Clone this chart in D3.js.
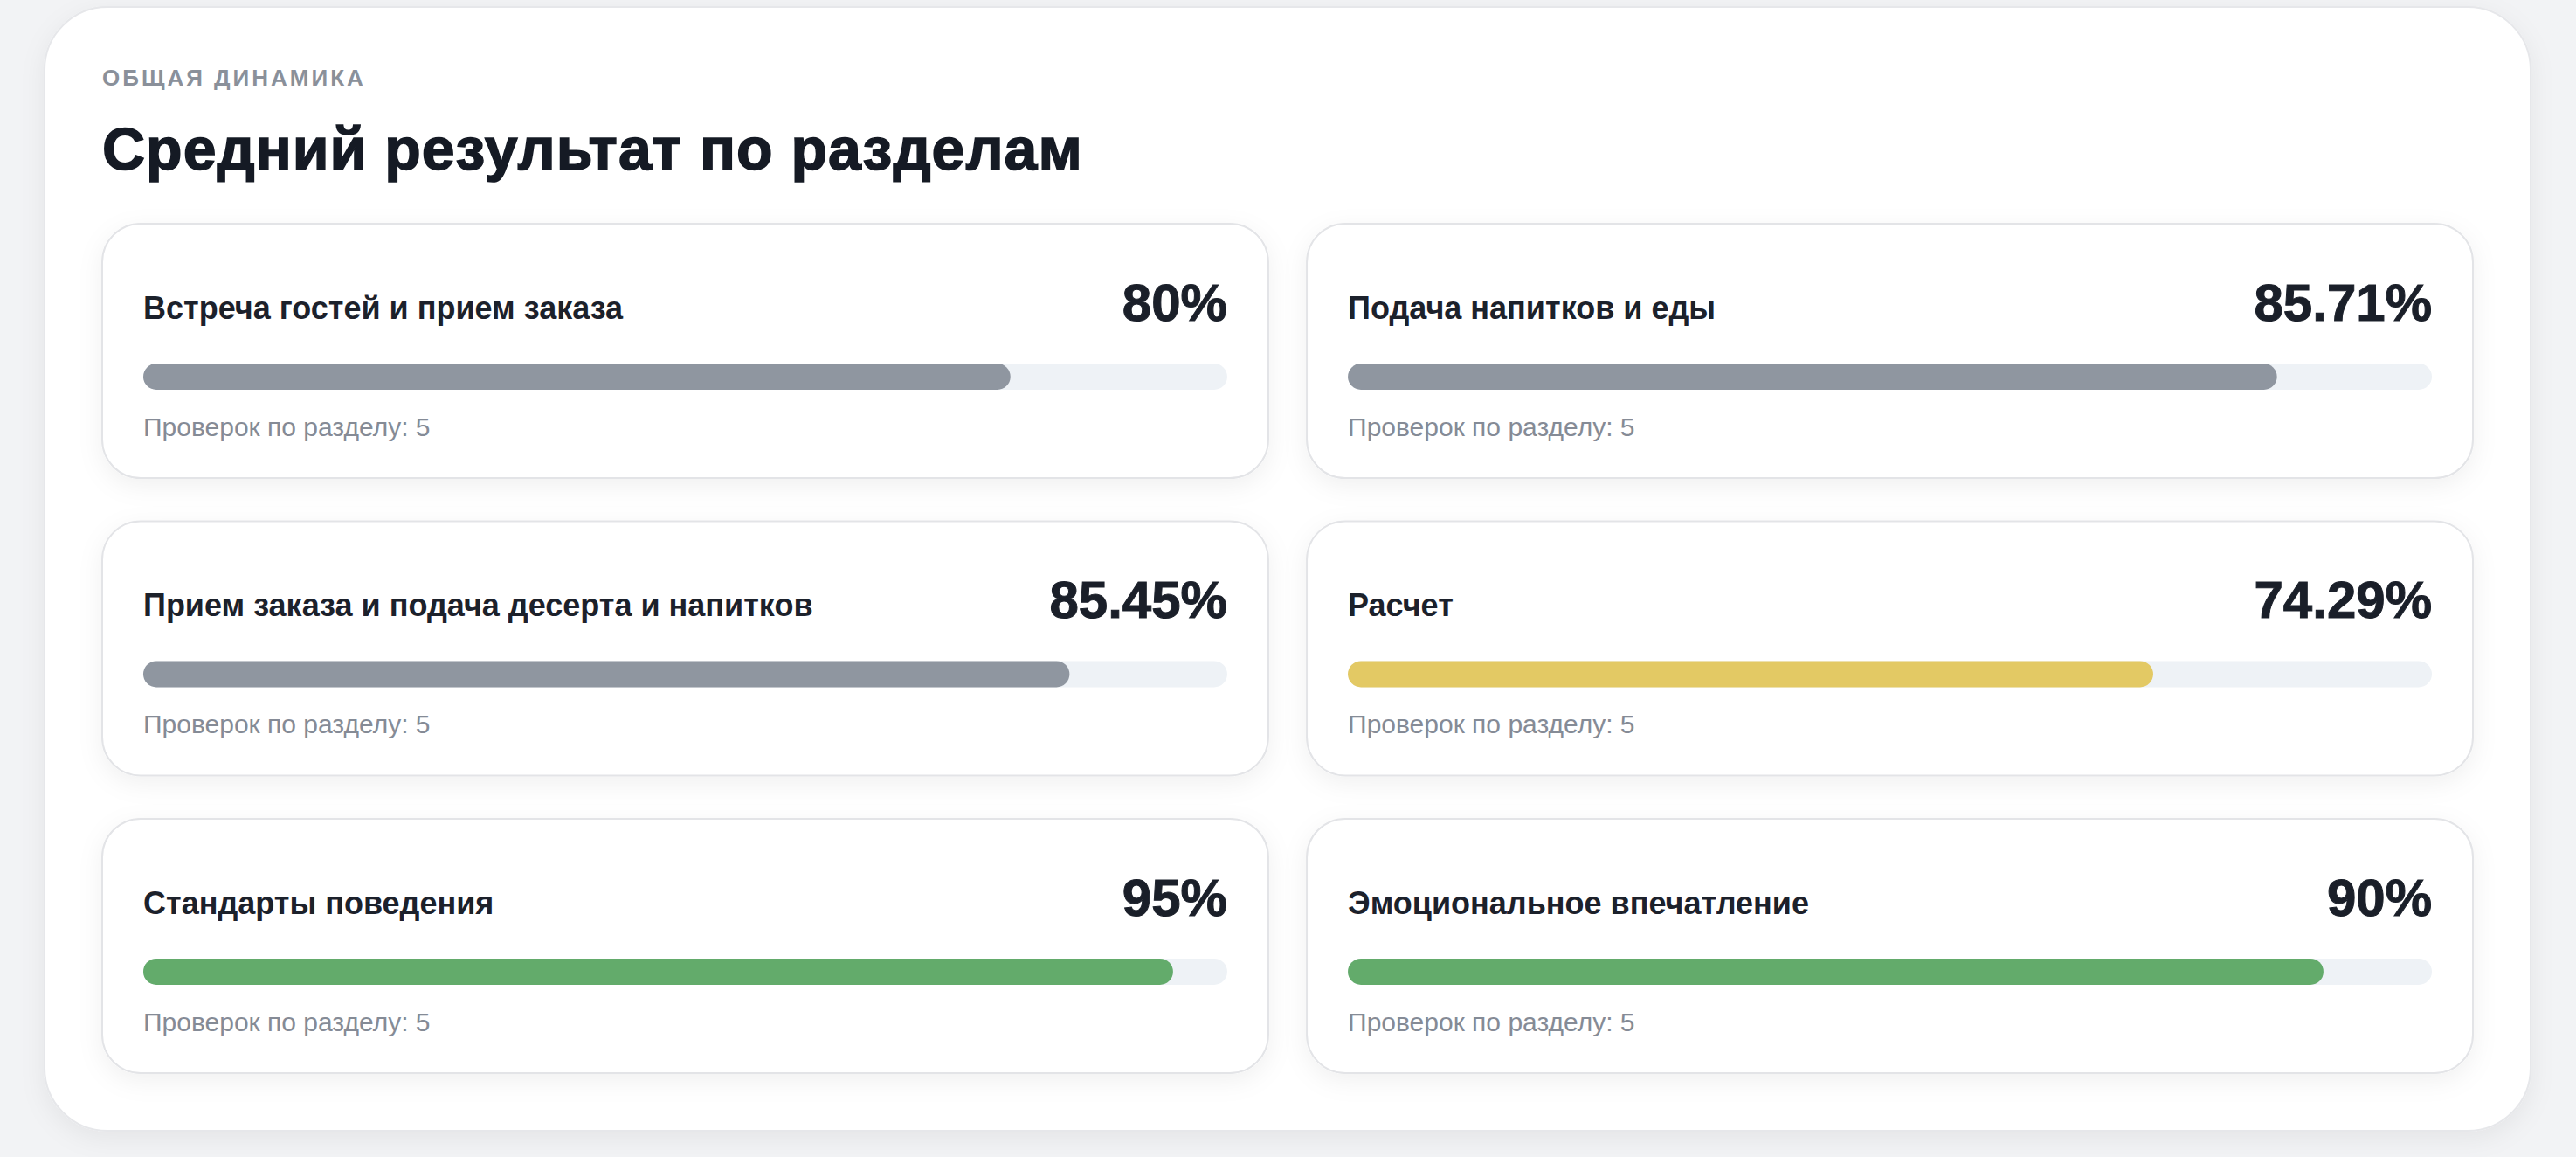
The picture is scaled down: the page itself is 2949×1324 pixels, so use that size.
<!DOCTYPE html>
<html>
<head>
<meta charset="utf-8">
<script src="https://cdn.jsdelivr.net/npm/d3@7"></script>
<style>
  body { margin: 0; background: #f2f3f5; }
  svg { display: block; font-family: "Liberation Sans", Arial, sans-serif; }
</style>
</head>
<body>
<svg id="chart" width="2949" height="1324"></svg>
<script>
const sections = [
  "Встреча гостей и прием заказа",
  "Подача напитков и еды",
  "Прием заказа и подача десерта и напитков",
  "Расчет",
  "Стандарты поведения",
  "Эмоциональное впечатление"
];
const scores = [80, 85.71, 85.45, 74.29, 95, 90];
const scoreLabels = ["80%", "85.71%", "85.45%", "74.29%", "95%", "90%"];
const checks = [5, 5, 5, 5, 5, 5];
const barColors = ["#8f96a0", "#8f96a0", "#8f96a0", "#e3c964", "#63ab6b", "#63ab6b"];

const svg = d3.select("#chart");
const defs = svg.append("defs");
const sh = defs.append("filter").attr("id", "shadow").attr("x", "-10%").attr("y", "-10%").attr("width", "120%").attr("height", "130%");
sh.append("feDropShadow").attr("dx", 0).attr("dy", 8).attr("stdDeviation", 14).attr("flood-color", "#000").attr("flood-opacity", 0.06);

// outer panel
svg.append("rect")
  .attr("x", 51).attr("y", 8).attr("width", 2846).attr("height", 1286)
  .attr("rx", 72).attr("fill", "#ffffff").attr("stroke", "#e6e7ea").attr("stroke-width", 2)
  .attr("filter", "url(#shadow)");

svg.append("text").attr("x", 117).attr("y", 98)
  .attr("font-size", 26).attr("font-weight", 700).attr("letter-spacing", 3)
  .attr("fill", "#8a909a").text("ОБЩАЯ ДИНАМИКА");

svg.append("text").attr("x", 117).attr("y", 194)
  .attr("font-size", 68).attr("font-weight", 700).attr("letter-spacing", 1)
  .attr("fill", "#151a24").style("paint-order", "stroke").attr("stroke", "#151a24").attr("stroke-width", 1.5)
  .text("Средний результат по разделам");

const col = d3.scaleBand().domain([0, 1]).range([117, 2831]).paddingInner(0.032);
const row = d3.scaleBand().domain([0, 1, 2]).range([256, 1228]).paddingInner(0.145);

const pad = 47;
const innerW = col.bandwidth() - pad * 2;
const x = d3.scaleLinear().domain([0, 100]).range([0, innerW]);

const cards = svg.selectAll("g.card").data(sections).join("g")
  .attr("class", "card")
  .attr("transform", (d, i) => `translate(${col(i % 2)},${row(Math.floor(i / 2))})`);

cards.append("rect")
  .attr("width", col.bandwidth()).attr("height", row.bandwidth())
  .attr("rx", 44).attr("fill", "#fff").attr("stroke", "#e3e4e7").attr("stroke-width", 2)
  .attr("filter", "url(#shadow)");

cards.append("text").attr("x", pad).attr("y", 109)
  .attr("font-size", 36).attr("font-weight", 700).attr("fill", "#1c212b")
  .text(d => d);

cards.append("text").attr("x", pad + innerW).attr("y", 111)
  .attr("text-anchor", "end").attr("font-size", 60).attr("font-weight", 700)
  .attr("fill", "#1a1f29").style("paint-order", "stroke").attr("stroke", "#1a1f29").attr("stroke-width", 1)
  .text((d, i) => scoreLabels[i]);

cards.append("rect").attr("x", pad).attr("y", 160)
  .attr("width", innerW).attr("height", 30).attr("rx", 15).attr("fill", "#eef2f6");

cards.append("rect").attr("x", pad).attr("y", 160)
  .attr("width", (d, i) => x(scores[i])).attr("height", 30).attr("rx", 15)
  .attr("fill", (d, i) => barColors[i]);

cards.append("text").attr("x", pad).attr("y", 243)
  .attr("font-size", 30).attr("fill", "#858b96")
  .text((d, i) => `Проверок по разделу: ${checks[i]}`);
</script>
</body>
</html>
